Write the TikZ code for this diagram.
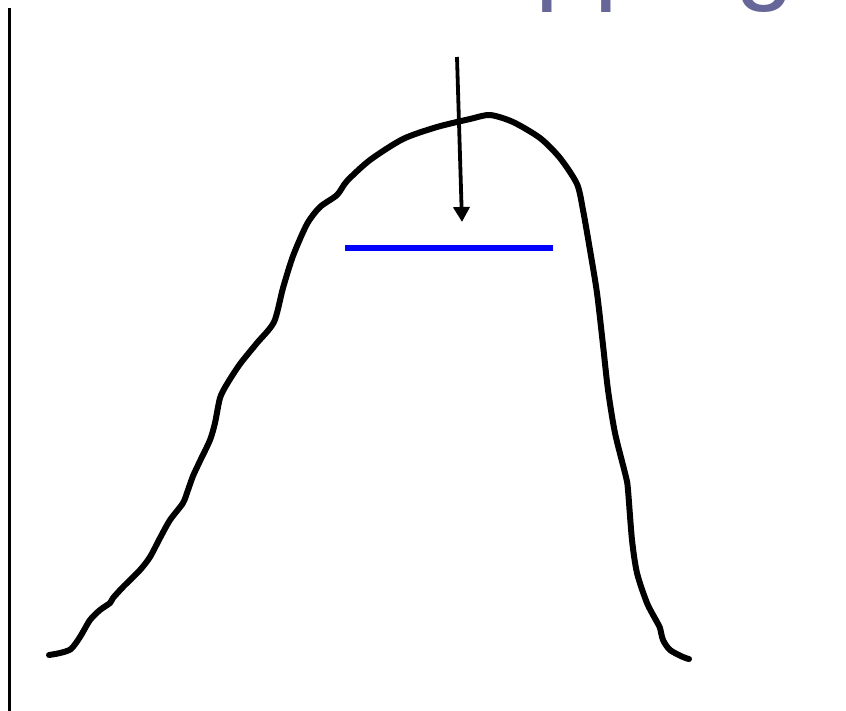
\documentclass[tikz,border=0pt]{standalone}
\usepackage{fontspec}
\setmainfont{Liberation Sans}
\usetikzlibrary{arrows.meta}
\definecolor{titlecol}{HTML}{666699}
\definecolor{pureblue}{HTML}{0000FF}
\tikzset{
  curveline/.style={line width=6pt, line join=round, line cap=round, black},
  levelline/.style={line width=6pt, pureblue},
  pointer/.style={line width=3.8pt, -{Triangle[width=16pt,length=15pt]}},
  axisline/.style={line width=3pt, black},
  titletext/.style={text=titlecol, inner sep=0pt, anchor=base west, font=\fontsize{106}{120}\selectfont}
}
\begin{document}
\begin{tikzpicture}[x=1pt,y=-1pt]
\useasboundingbox (0,0) rectangle (846,710);
\clip (0,0) rectangle (846,710);
\node[titletext] (title) at (388,-10) {Mapping};
\coordinate (axTop) at (9,8);
\coordinate (axBot) at (9,712);
\draw[axisline] (axTop) -- (axBot);
\draw[curveline] plot[smooth, tension=0.45] coordinates {
 (49,655) (60,653) (71,649) (80,637) (90,620) (100,610) (110,603) (113,598)
 (123,587) (140,570) (150,557) (160,538) (170,520) (183,503) (188,490)
 (193,476) (200,461) (210,440) (215,423) (220,398) (227,384) (240,364)
 (257,343) (274,322) (283,288) (293,256) (307,224) (320,207) (337,195)
 (347,181) (370,160) (403,139) (437,127) (470,119) (490,115) (513,122)
 (540,138) (560,158) (577,184) (583,210) (590,250) (597,293) (603,345)
 (608,390) (615,433) (626,477) (628,490) (632,540) (637,573) (647,603)
 (657,622) (660,628) (663,640) (670,650) (683,657) (689,659)};
\coordinate (lvlL) at (345,248);
\coordinate (lvlR) at (553,248);
\draw[levelline] (lvlL) -- (lvlR);
\coordinate (arrS) at (457,57);
\coordinate (arrE) at (462,222);
\draw[pointer] (arrS) -- (arrE);
\end{tikzpicture}
\end{document}
